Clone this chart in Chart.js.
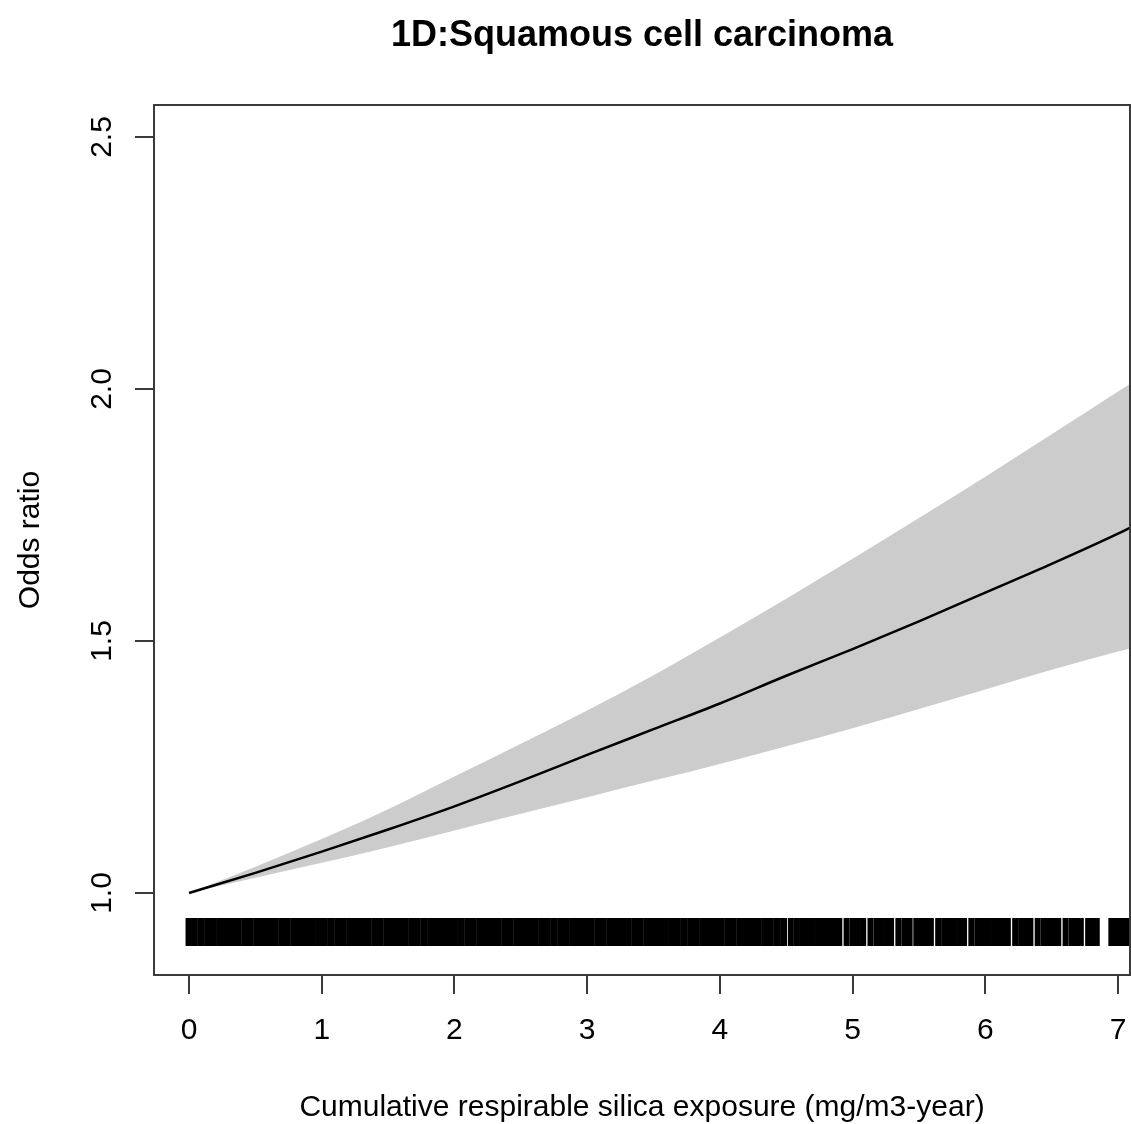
<!DOCTYPE html>
<html><head><meta charset="utf-8">
<script src="https://cdn.jsdelivr.net/npm/chart.js@4.4.1/dist/chart.umd.min.js"></script>
<style>html,body{margin:0;padding:0;background:#fff;} canvas{display:block;}</style>
</head><body>
<canvas id="c" width="1131" height="1124"></canvas>
<script>
const titleText = "1D:Squamous cell carcinoma";
const xTitle = "Cumulative respirable silica exposure (mg/m3-year)";
const yTitle = "Odds ratio";
const xTicks = [0, 1, 2, 3, 4, 5, 6, 7];
const yTicks = [1.0, 1.5, 2.0, 2.5];

const exposure  = [0, 0.5, 1, 1.5, 2, 2.5, 3, 3.5, 4, 4.5, 5, 5.5, 6, 6.5, 7, 7.1];
const oddsRatio = [1.000, 1.040, 1.082, 1.126, 1.172, 1.222, 1.274, 1.325, 1.376, 1.431, 1.484, 1.539, 1.596, 1.653, 1.713, 1.726];
const ciUpper   = [1.000, 1.052, 1.107, 1.166, 1.231, 1.296, 1.362, 1.432, 1.507, 1.584, 1.663, 1.744, 1.826, 1.910, 1.995, 2.012];
const ciLower   = [1.000, 1.030, 1.060, 1.091, 1.124, 1.157, 1.190, 1.223, 1.256, 1.291, 1.327, 1.365, 1.404, 1.443, 1.479, 1.486];

const rugDense = [0.00,0.04,0.09,0.14,0.18,0.23,0.28,0.32,0.37,0.42,0.46,0.51,0.56,0.60,0.65,0.70,0.74,0.79,0.84,0.88,0.93,0.98,
  1.02,1.07,1.12,1.16,1.21,1.26,1.30,1.35,1.40,1.44,1.49,1.54,1.58,1.63,1.68,1.72,1.77,1.82,1.86,1.91,1.96,
  2.00,2.05,2.10,2.14,2.19,2.24,2.28,2.33,2.38,2.42,2.47,2.52,2.56,2.61,2.66,2.70,2.75,2.80,2.84,2.89,2.94,2.98,
  3.03,3.08,3.12,3.17,3.22,3.26,3.31,3.36,3.40,3.45,3.50,3.54,3.59,3.64,3.68,3.73,3.78,3.82,3.87,3.92,3.96,
  4.01,4.06,4.10,4.15,4.20,4.24,4.29,4.34,4.38,4.43,4.48];
const rugSparse = [4.535,4.58,4.62,4.66,4.70,4.74,4.78,4.82,4.86,4.90,4.955,5.00,5.04,5.08,5.135,5.18,5.22,5.26,5.29,
  5.345,5.39,5.43,5.48,5.52,5.56,5.59,5.645,5.69,5.73,5.77,5.81,5.84,5.895,5.94,5.98,6.02,6.06,6.10,6.14,6.17,
  6.225,6.27,6.31,6.34,6.395,6.44,6.48,6.52,6.55,6.605,6.65,6.69,6.72,6.775,6.81,6.84,6.95,6.99,7.03,7.07,7.10];
const rugLevel = 0.9226;

const FF = "'Liberation Sans', Arial, Helvetica, sans-serif";
const pts = (xs, ys) => xs.map((x, i) => ({x: x, y: ys[i]}));

const overlay = {
  id: 'overlay',
  afterDraw(chart) {
    const ctx = chart.ctx, a = chart.chartArea;
    const ys = chart.scales.y;
    ctx.save();
    ctx.strokeStyle = '#3a3a3a';
    ctx.lineWidth = 2;
    ctx.strokeRect(a.left + 1, a.top + 1, a.right - a.left - 2, a.bottom - a.top - 2);
    ctx.fillStyle = '#000';
    ctx.font = '30px ' + FF;
    ctx.textAlign = 'center';
    ctx.textBaseline = 'alphabetic';
    yTicks.forEach(v => {
      const py = ys.getPixelForValue(v);
      ctx.save();
      ctx.translate(111, py);
      ctx.rotate(-Math.PI / 2);
      ctx.fillText(v.toFixed(1), 0, 0);
      ctx.restore();
    });
    ctx.save();
    ctx.translate(39, (a.top + a.bottom) / 2);
    ctx.rotate(-Math.PI / 2);
    ctx.fillText(yTitle, 0, 0);
    ctx.restore();
    ctx.fillText(xTitle, (a.left + a.right) / 2, 1116);
    ctx.font = 'bold 36px ' + FF;
    ctx.fillText(titleText, (a.left + a.right) / 2, 46);
    ctx.restore();
  }
};

new Chart(document.getElementById('c'), {
  type: 'scatter',
  data: {
    datasets: [
      { data: pts(exposure, ciUpper), showLine: true, fill: '+1', backgroundColor: '#cccccc', order: 5,
        borderColor: 'rgba(0,0,0,0)', borderWidth: 0, pointRadius: 0, cubicInterpolationMode: 'monotone' },
      { data: pts(exposure, ciLower), showLine: true, fill: false, order: 4,
        borderColor: 'rgba(0,0,0,0)', borderWidth: 0, pointRadius: 0, cubicInterpolationMode: 'monotone' },
      { data: pts(exposure, oddsRatio), showLine: true, fill: false, borderColor: '#000', order: 0,
        borderWidth: 2.5, pointRadius: 0, cubicInterpolationMode: 'monotone' },
      { data: rugDense.map(x => ({x: x, y: rugLevel})), showLine: false, pointStyle: 'line', order: 1,
        pointRotation: 90, pointRadius: 14, pointBorderWidth: 7, borderColor: '#000', backgroundColor: '#000' },
      { data: rugSparse.map(x => ({x: x, y: rugLevel})), showLine: false, pointStyle: 'line', order: 1,
        pointRotation: 90, pointRadius: 14, pointBorderWidth: 6, borderColor: '#000', backgroundColor: '#000' }
    ]
  },
  options: {
    responsive: false,
    animation: false,
    devicePixelRatio: 1,
    events: [],
    layout: { autoPadding: false, padding: { left: 0, right: 0, top: 104, bottom: 0 } },
    plugins: { legend: { display: false }, tooltip: { enabled: false }, title: { display: false } },
    scales: {
      x: {
        type: 'linear', min: -0.2716, max: 7.098,
        afterBuildTicks: s => { s.ticks = xTicks.map(v => ({value: v})); },
        afterFit: s => { s.height = 148; s.paddingLeft = 0; s.paddingRight = 0; },
        grid: { display: true, drawOnChartArea: false, drawTicks: true, tickLength: 18, color: '#3a3a3a', lineWidth: 2 },
        border: { display: false },
        ticks: { color: '#000', font: { family: FF, size: 30 }, padding: 19, maxRotation: 0, autoSkip: false,
                 callback: v => String(v) }
      },
      y: {
        type: 'linear', min: 0.8353, max: 2.5655,
        afterBuildTicks: s => { s.ticks = yTicks.map(v => ({value: v})); },
        afterFit: s => { s.width = 153; s.paddingTop = 0; s.paddingBottom = 0; },
        grid: { display: true, drawOnChartArea: false, drawTicks: true, tickLength: 18, color: '#3a3a3a', lineWidth: 2 },
        border: { display: false },
        ticks: { display: false }
      }
    }
  },
  plugins: [overlay]
});
</script>
</body></html>
